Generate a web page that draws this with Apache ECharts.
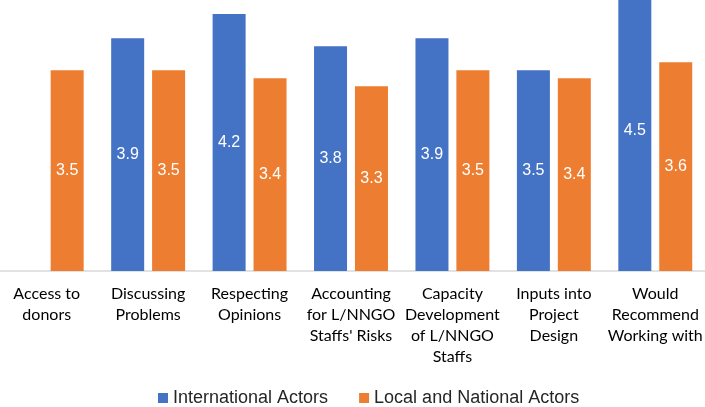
<!DOCTYPE html>
<html>
<head>
<meta charset="utf-8">
<script src="https://cdn.jsdelivr.net/npm/echarts@6/dist/echarts.min.js"></script>
<style>
  html, body { margin: 0; padding: 0; background: #fff; overflow: hidden; }
  /* the original picture is cropped a little at the top and left */
  #chart { width: 710px; height: 417px; margin-left: -4px; margin-top: -10px; }
</style>
</head>
<body>
<div id="chart"></div>
<script>
  // categories (line breaks as in the original labels)
  var categories = [
    'Access to\ndonors',
    'Discussing\nProblems',
    'Respecting\nOpinions',
    'Accounting\nfor L/NNGO\nStaffs\' Risks',
    'Capacity\nDevelopment\nof L/NNGO\nStaffs',
    'Inputs into\nProject\nDesign',
    'Would\nRecommend\nWorking with'
  ];
  var seriesNames = ['International Actors', 'Local and National Actors'];
  var international = [null, 3.9, 4.2, 3.8, 3.9, 3.5, 4.5];
  var localNational = [3.5, 3.5, 3.4, 3.3, 3.5, 3.4, 3.6];

  var chart = echarts.init(document.getElementById('chart'));

  var labelStyle = {
    show: true,
    position: 'inside',
    color: '#ffffff',
    fontFamily: '"Liberation Sans", Arial, sans-serif',
    fontSize: 16,
    formatter: function (p) { return p.value.toFixed(1); }
  };

  chart.setOption({
    animation: false,
    color: ['#4472C4', '#ED7D31'],
    grid: {
      left: 0,
      right: 0,
      top: 0,
      bottom: 136
    },
    legend: {
      data: seriesNames,
      left: 162,
      top: 399,
      padding: 0,
      icon: 'rect',
      itemWidth: 10,
      itemHeight: 10,
      itemGap: 31,
      textStyle: {
        fontFamily: '"Liberation Sans", Arial, sans-serif',
        fontSize: 18,
        color: '#262626'
      }
    },
    xAxis: {
      type: 'category',
      data: categories,
      axisLine: { lineStyle: { color: '#d9d9d9', width: 1.5 } },
      axisTick: { show: false },
      axisLabel: {
        interval: 0,
        margin: 12,
        fontFamily: 'Lato, "Open Sans", sans-serif',
        fontSize: 16,
        lineHeight: 21,
        color: '#000000'
      }
    },
    yAxis: {
      type: 'value',
      min: 1,
      max: 4.5,
      show: false,
      splitLine: { show: false }
    },
    series: [
      {
        name: seriesNames[0],
        type: 'bar',
        data: international,
        barWidth: 33,
        barGap: '24%',
        label: labelStyle
      },
      {
        name: seriesNames[1],
        type: 'bar',
        data: localNational,
        barWidth: 33,
        label: labelStyle
      }
    ]
  });
</script>
</body>
</html>
